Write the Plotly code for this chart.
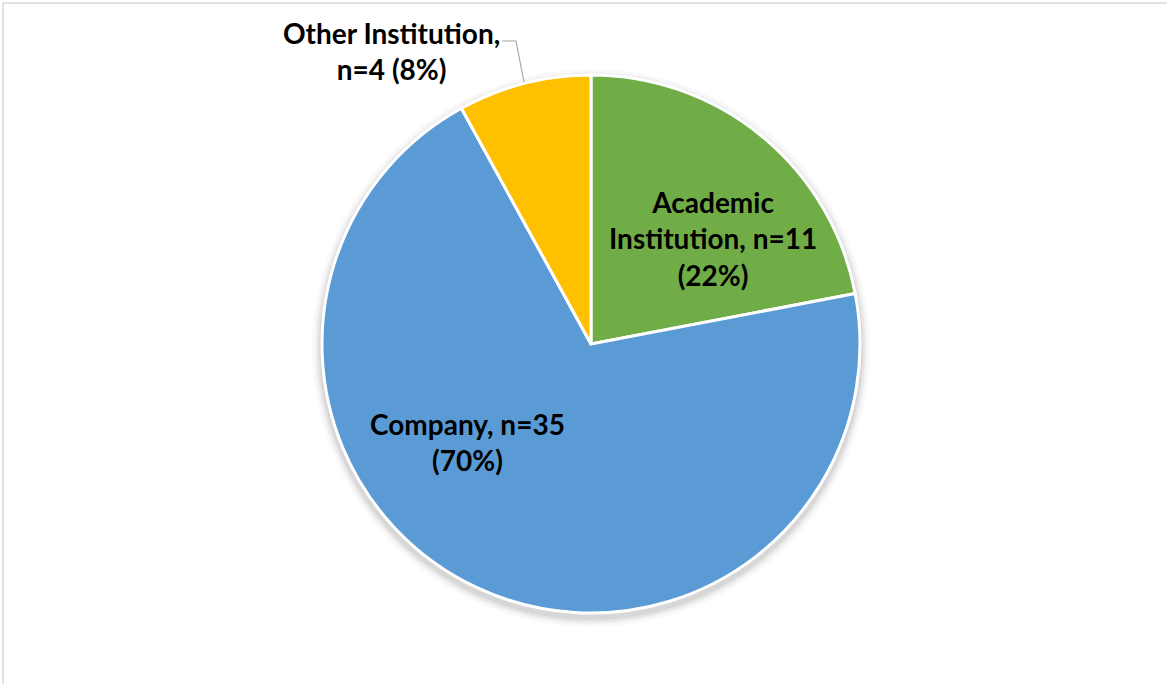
import plotly.graph_objects as go

# Affiliation breakdown
categories = ["Academic Institution", "Company", "Other Institution"]
counts = [11, 35, 4]
colors = ["#70AD47", "#5B9BD5", "#FFC000"]

W, H = 1167, 684
total = sum(counts)
pcts = [round(100 * c / total) for c in counts]


def px(x):
    return x / W


def py(y):
    return 1 - y / H


# Pie geometry in pixels
cx, cy, r = 591, 344, 269

fig = go.Figure(
    go.Pie(
        labels=categories,
        values=counts,
        sort=False,
        direction="clockwise",
        rotation=0,
        marker=dict(colors=colors, line=dict(color="white", width=3)),
        textinfo="none",
        hoverinfo="label+value+percent",
        showlegend=False,
        domain=dict(x=[px(cx - r), px(cx + r)], y=[py(cy + r), py(cy - r)]),
    )
)

# Soft drop shadow behind the pie
shapes = []
for grow, alpha in [(10, 0.025), (7, 0.035), (5, 0.045), (3, 0.06)]:
    rr = r + grow
    shapes.append(
        dict(
            type="circle", xref="paper", yref="paper", layer="below",
            x0=px(cx - rr), x1=px(cx + rr), y0=py(cy + 4 + rr), y1=py(cy + 4 - rr),
            fillcolor=f"rgba(0,0,0,{alpha})", line=dict(width=0),
        )
    )

# Chart-area border (top and left edges visible)
shapes.append(dict(type="line", xref="paper", yref="paper", x0=px(3), x1=1.01, y0=py(3), y1=py(3),
                   line=dict(color="#D9D9D9", width=1.5)))
shapes.append(dict(type="line", xref="paper", yref="paper", x0=px(3), x1=px(3), y0=py(3), y1=-0.01,
                   line=dict(color="#D9D9D9", width=1.5)))

# Leader line for the small slice
shapes.append(dict(type="path", xref="paper", yref="paper",
                   path=f"M {px(502)},{py(41)} L {px(516)},{py(41)} L {px(524)},{py(82)}",
                   line=dict(color="#A6A6A6", width=1.2)))

label_text = [
    f"Academic<br>Institution, n={counts[0]}<br>({pcts[0]}%)",
    f"Company, n={counts[1]}<br>({pcts[1]}%)",
    f"Other Institution,<br>n={counts[2]} ({pcts[2]}%)",
]
label_pos = [(713, 239), (467, 442), (391, 51)]

annotations = [
    dict(text=f"<b>{t}</b>", x=px(x), y=py(y), xref="paper", yref="paper",
         showarrow=False, xanchor="center", yanchor="middle", align="center",
         font=dict(family="Lato", size=28, color="black"))
    for t, (x, y) in zip(label_text, label_pos)
]

fig.update_layout(
    width=W, height=H,
    margin=dict(l=0, r=0, t=0, b=0),
    paper_bgcolor="white",
    plot_bgcolor="white",
    shapes=shapes,
    annotations=annotations,
)

fig.write_html("out.html")
